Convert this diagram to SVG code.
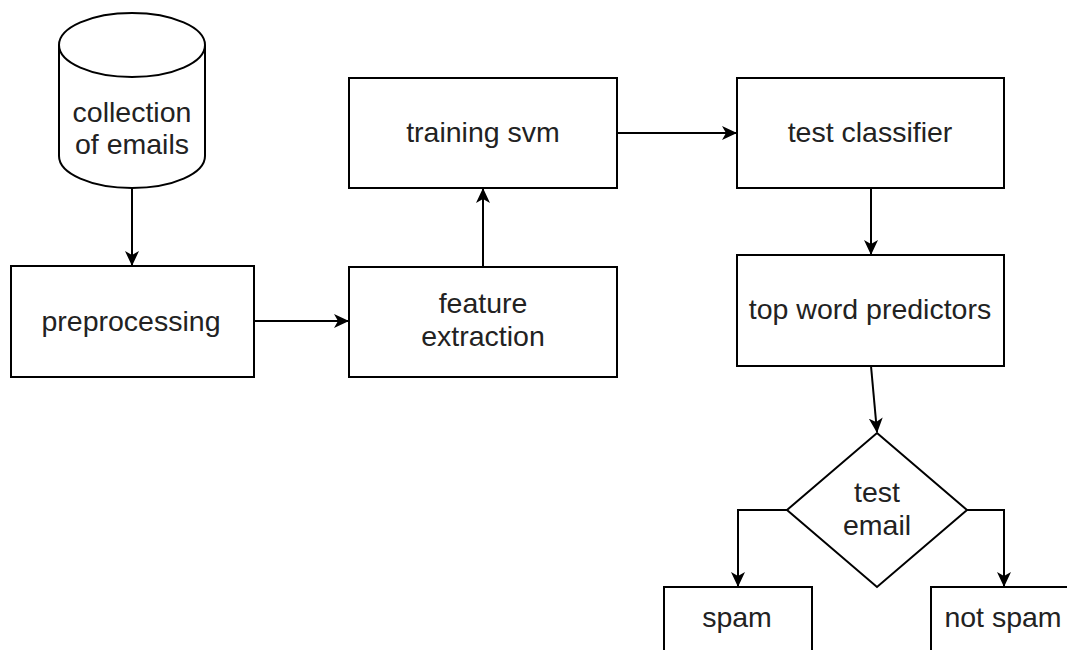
<svg xmlns="http://www.w3.org/2000/svg" width="1067" height="650" viewBox="0 0 1067 650">
<style>
.box{fill:#fff;stroke:#000;stroke-width:2}
.lbl{font-family:"Liberation Sans",Arial,sans-serif;font-size:28.5px;fill:#222;text-anchor:middle}
.edge{fill:none;stroke:#000;stroke-width:2}
</style>
<defs>
<marker id="arr" viewBox="0 0 15 14" refX="14" refY="7" markerWidth="15" markerHeight="14" markerUnits="userSpaceOnUse" orient="auto">
<path d="M0,0 L15,7 L0,14 L4,7 z" fill="#000"/>
</marker>
</defs>
<rect width="1067" height="650" fill="#fff"/>
<g id="connectors">
<path class="edge" d="M132,188 L132,265" marker-end="url(#arr)"/>
<path class="edge" d="M254,321 L348,321" marker-end="url(#arr)"/>
<path class="edge" d="M483,267 L483,189" marker-end="url(#arr)"/>
<path class="edge" d="M617,133 L736,133" marker-end="url(#arr)"/>
<path class="edge" d="M871,188 L871,254" marker-end="url(#arr)"/>
<path class="edge" d="M871,366 L877,432" marker-end="url(#arr)"/>
<path class="edge" d="M787,510 L738,510 L738,586" marker-end="url(#arr)"/>
<path class="edge" d="M967,510 L1004,510 L1004,586" marker-end="url(#arr)"/>
</g>
<g id="collection">
<path class="box" d="M59,45 A73,32 0 0 1 205,45 L205,156 A73,32 0 0 1 59,156 Z"/>
<path class="edge" d="M59,45 A73,32 0 0 0 205,45"/>
<text class="lbl" x="132" y="122">collection</text>
<text class="lbl" x="132" y="154">of emails</text>
</g>
<g id="preprocessing">
<rect class="box" x="11" y="266" width="243" height="111"/>
<text class="lbl" x="131" y="331">preprocessing</text>
</g>
<g id="feature">
<rect class="box" x="349" y="267" width="268" height="110"/>
<text class="lbl" x="483" y="313">feature</text>
<text class="lbl" x="483" y="346">extraction</text>
</g>
<g id="training">
<rect class="box" x="349" y="78" width="268" height="110"/>
<text class="lbl" x="483" y="142">training svm</text>
</g>
<g id="testclassifier">
<rect class="box" x="737" y="78" width="267" height="110"/>
<text class="lbl" x="870" y="142">test classifier</text>
</g>
<g id="topword">
<rect class="box" x="737" y="255" width="267" height="111"/>
<text class="lbl" x="870" y="319">top word predictors</text>
</g>
<g id="testemail">
<polygon class="box" points="877,433 967,510 877,587 787,510"/>
<text class="lbl" x="877" y="502">test</text>
<text class="lbl" x="877" y="535">email</text>
</g>
<g id="spam">
<rect class="box" x="664" y="587" width="148" height="80"/>
<text class="lbl" x="737" y="627">spam</text>
</g>
<g id="notspam">
<rect class="box" x="931" y="587" width="148" height="80"/>
<text class="lbl" x="1003" y="627">not spam</text>
</g>
</svg>
